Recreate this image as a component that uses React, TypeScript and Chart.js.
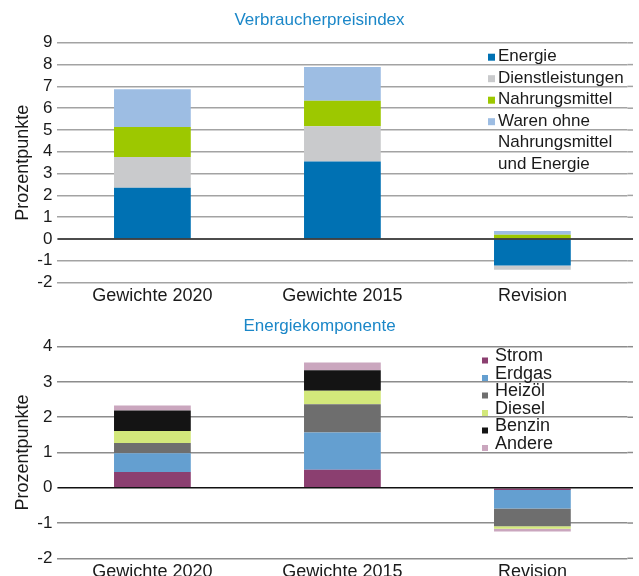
import React, { useEffect, useRef } from 'react';
import { Chart, registerables } from 'chart.js';

Chart.register(...registerables);

const FONT = '"Liberation Sans", Arial, Helvetica, sans-serif';

// ---- Data: Verbraucherpreisindex ----
const categories = ['Gewichte 2020', 'Gewichte 2015', 'Revision'];
const cpiTitle = 'Verbraucherpreisindex';
const cpiLabels = ['Energie', 'Dienstleistungen', 'Nahrungsmittel', 'Waren ohne\nNahrungsmittel\nund Energie'];
const cpiColors = ['#0071b3', '#c9cacc', '#9dc800', '#9dbde3'];
const energie = [2.35, 3.56, -1.22];
const dienstleistungen = [1.41, 1.61, -0.19];
const nahrungsmittel = [1.38, 1.17, 0.2];
const warenOhne = [1.73, 1.55, 0.17];
const cpiYMin = -2;
const cpiYMax = 9;

// ---- Data: Energiekomponente ----
const enTitle = 'Energiekomponente';
const enLabels = ['Strom', 'Erdgas', 'Heizöl', 'Diesel', 'Benzin', 'Andere'];
const enColors = ['#8b3f70', '#649fd0', '#6e6e6e', '#d3e87b', '#141414', '#caa6be'];
const strom = [0.45, 0.51, -0.06];
const erdgas = [0.53, 1.06, -0.53];
const heizoel = [0.29, 0.8, -0.5];
const diesel = [0.34, 0.38, -0.07];
const benzin = [0.58, 0.58, 0.0];
const andere = [0.14, 0.22, -0.08];
const enYMin = -2;
const enYMax = 4;

const yTitle = 'Prozentpunkte';
const TEXT = '#1a1a1a';
const TITLE_COLOR = '#1b87c8';

type LegendCfg = { y: number; step: number; boxX: number; box: number; boxDy: number; textX: number; size: number };

function makePlugins(title: string, titleY: number, lg: LegendCfg, gridColor: string) {
  return [
    {
      id: 'topTitle',
      afterDraw(chart: any) {
        const ctx = chart.ctx;
        ctx.save();
        ctx.font = `17px ${FONT}`;
        ctx.fillStyle = TITLE_COLOR;
        ctx.textAlign = 'center';
        ctx.textBaseline = 'middle';
        ctx.fillText(title, chart.width / 2, titleY);
        ctx.restore();
      },
    },
    {
      id: 'zeroLine',
      afterDatasetsDraw(chart: any) {
        const { ctx, chartArea, scales } = chart;
        const y = scales.y.getPixelForValue(0);
        ctx.save();
        ctx.strokeStyle = '#111111';
        ctx.lineWidth = 1.6;
        ctx.beginPath();
        ctx.moveTo(chartArea.left, y);
        ctx.lineTo(chart.width - 6, y);
        ctx.stroke();
        ctx.restore();
      },
    },
    {
      id: 'gridExtend',
      beforeDatasetsDraw(chart: any) {
        const { ctx, chartArea, scales } = chart;
        ctx.save();
        ctx.strokeStyle = gridColor;
        ctx.lineWidth = 1.5;
        scales.y.ticks.forEach((t: any) => {
          if (t.value === 0) return;
          const y = scales.y.getPixelForValue(t.value);
          ctx.beginPath();
          ctx.moveTo(chartArea.right, y);
          ctx.lineTo(chart.width - 6, y);
          ctx.stroke();
        });
        ctx.restore();
      },
    },
    {
      id: 'insideLegend',
      afterDatasetsDraw(chart: any) {
        const ctx = chart.ctx;
        ctx.save();
        ctx.font = `${lg.size}px ${FONT}`;
        ctx.textBaseline = 'middle';
        ctx.textAlign = 'left';
        let row = 0;
        chart.data.datasets.forEach((ds: any) => {
          const lines = String(ds.label).split('\n');
          const y0 = lg.y + row * lg.step;
          ctx.fillStyle = ds.backgroundColor;
          ctx.fillRect(lg.boxX, y0 + lg.boxDy - lg.box / 2, lg.box, lg.box);
          ctx.fillStyle = TEXT;
          lines.forEach((ln, i) => ctx.fillText(ln, lg.textX, y0 + i * lg.step));
          row += lines.length;
        });
        ctx.restore();
      },
    },
  ];
}

function makeOptions(opts: {
  yMin: number;
  yMax: number;
  padTop: number;
  xHeight: number;
  gridColor: string;
}) {
  return {
    responsive: false,
    animation: false as const,
    layout: { padding: { top: opts.padTop, right: 11.6, left: 0, bottom: 0 } },
    plugins: { legend: { display: false }, title: { display: false }, tooltip: { enabled: false } },
    datasets: { bar: { barPercentage: 0.404, categoryPercentage: 1, borderWidth: 0 } },
    scales: {
      x: {
        stacked: true,
        grid: { display: false, drawTicks: false },
        border: { display: false },
        ticks: { color: TEXT, font: { family: FONT, size: 18 }, padding: 3, maxRotation: 0, autoSkip: false },
        afterFit(scale: any) {
          scale.height = opts.xHeight;
        },
      },
      y: {
        stacked: true,
        min: opts.yMin,
        max: opts.yMax,
        border: { display: false },
        grid: {
          drawTicks: false,
          lineWidth: 1.5,
          color: (c: any) => (c.tick && c.tick.value === 0 ? 'rgba(0,0,0,0)' : opts.gridColor),
        },
        ticks: { stepSize: 1, autoSkip: false, color: TEXT, font: { family: FONT, size: 17 }, padding: 5 },
        title: {
          display: true,
          text: yTitle,
          color: TEXT,
          font: { family: FONT, size: 18 },
          padding: { top: 12, bottom: 0 },
        },
        afterFit(scale: any) {
          scale.width = 57.4;
        },
      },
    },
  };
}

function CpiChart() {
  const ref = useRef<HTMLCanvasElement>(null);
  useEffect(() => {
    const series = [energie, dienstleistungen, nahrungsmittel, warenOhne];
    const chart = new Chart(ref.current as HTMLCanvasElement, {
      type: 'bar',
      data: {
        labels: categories,
        datasets: series.map((d, i) => ({ label: cpiLabels[i], data: d, backgroundColor: cpiColors[i] })),
      },
      options: makeOptions({ yMin: cpiYMin, yMax: cpiYMax, padTop: 42.8, xHeight: 22.4, gridColor: '#a3a3a3' }) as any,
      plugins: makePlugins(cpiTitle, 20.5, { y: 56.7, step: 21.5, boxX: 488, box: 7, boxDy: 0.5, textX: 498, size: 17 }, '#a3a3a3') as any,
    });
    return () => chart.destroy();
  }, []);
  return (
    <canvas
      ref={ref}
      width={639}
      height={305}
      style={{ position: 'fixed', left: 0, top: 0, width: 639, height: 305 }}
    />
  );
}

function EnergyChart() {
  const ref = useRef<HTMLCanvasElement>(null);
  useEffect(() => {
    const series = [strom, erdgas, heizoel, diesel, benzin, andere];
    const chart = new Chart(ref.current as HTMLCanvasElement, {
      type: 'bar',
      data: {
        labels: categories,
        datasets: series.map((d, i) => ({ label: enLabels[i], data: d, backgroundColor: enColors[i] })),
      },
      options: makeOptions({ yMin: enYMin, yMax: enYMax, padTop: 41.7, xHeight: 17.7, gridColor: '#8c8c8c' }) as any,
      plugins: makePlugins(enTitle, 21.7, { y: 51.5, step: 17.5, boxX: 482, box: 6, boxDy: 4, textX: 495, size: 18 }, '#8c8c8c') as any,
    });
    return () => chart.destroy();
  }, []);
  return (
    <canvas
      ref={ref}
      width={639}
      height={271}
      style={{ position: 'fixed', left: 0, top: 305, width: 639, height: 271 }}
    />
  );
}

export default function App() {
  return (
    <div>
      <CpiChart />
      <EnergyChart />
    </div>
  );
}
